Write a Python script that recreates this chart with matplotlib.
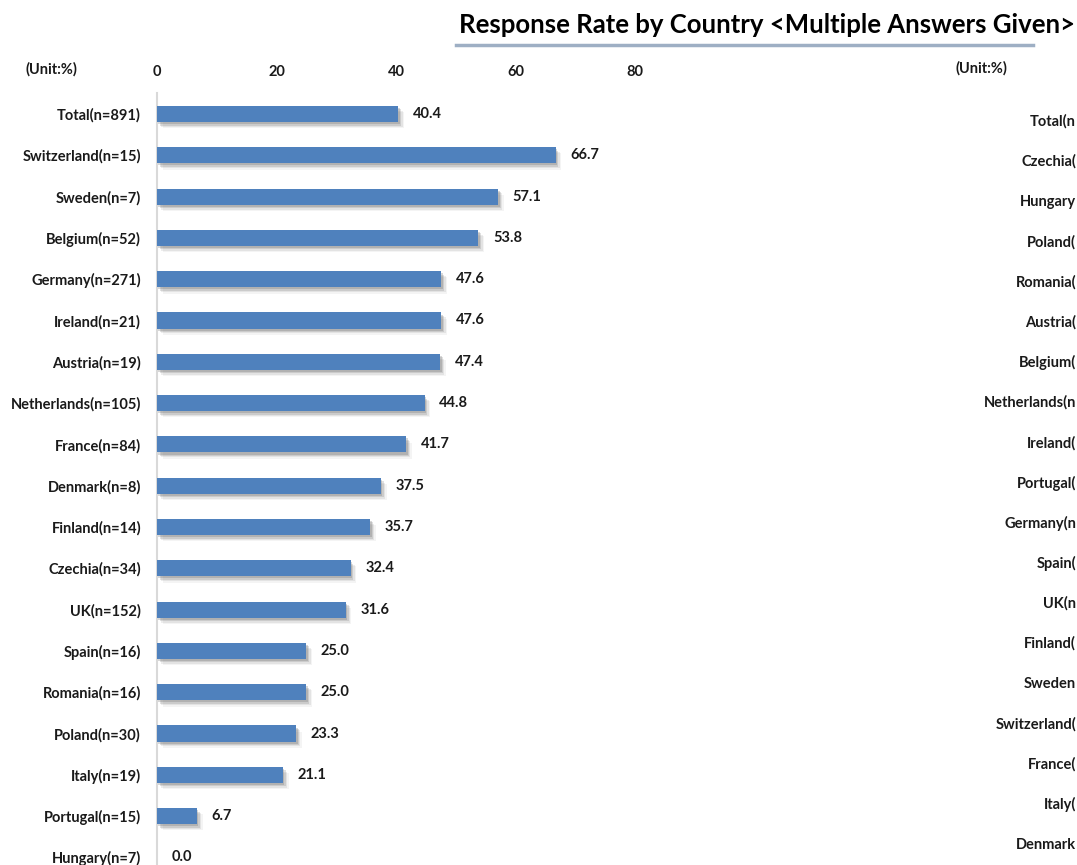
import numpy as np
import matplotlib.pyplot as plt
import matplotlib.patheffects as pe

# left chart (sorted by rate)
countries = ['Total', 'Switzerland', 'Sweden', 'Belgium', 'Germany', 'Ireland', 'Austria',
             'Netherlands', 'France', 'Denmark', 'Finland', 'Czechia', 'UK', 'Spain',
             'Romania', 'Poland', 'Italy', 'Portugal', 'Hungary']
n_resp = [891, 15, 7, 52, 271, 21, 19, 105, 84, 8, 14, 34, 152, 16, 16, 30, 19, 15, 7]
rates = [40.4, 66.7, 57.1, 53.8, 47.6, 47.6, 47.4, 44.8, 41.7, 37.5, 35.7, 32.4, 31.6,
         25.0, 25.0, 23.3, 21.1, 6.7, 0.0]
xticks = [0, 20, 40, 60, 80]

# right chart: only the start of its labels shows, the rest is cropped off
labels_r = ['Total(n', 'Czechia(', 'Hungary', 'Poland(', 'Romania(', 'Austria(', 'Belgium(',
            'Netherlands(n', 'Ireland(', 'Portugal(', 'Germany(n', 'Spain(', 'UK(n',
            'Finland(', 'Sweden', 'Switzerland(', 'France(', 'Italy(', 'Denmark']

labels = ['%s(n=%d)' % (c, n) for c, n in zip(countries, n_resp)]

plt.rcParams['font.family'] = ['Lato', 'DejaVu Sans']
plt.rcParams['font.weight'] = 'bold'

W, H = 1077, 865
fig = plt.figure(figsize=(W / 100, H / 100), dpi=100)
fs = 10.5
tcol = '#1a1a1a'


def px_axes(x0, x1, y_top, y_bot):
    return fig.add_axes([x0 / W, 1 - y_bot / H, (x1 - x0) / W, (y_bot - y_top) / H])


# left axes: row 0 at y=114, step 41.3 px
step = 41.3
top, bot = 93, 865
ax = px_axes(157, 635, top, bot)
ax.set_xlim(0, 80)
ax.set_ylim((bot - 114) / step, (top - 114) / step)

y = np.arange(len(countries))
bars = ax.barh(y, rates, height=0.39, color='#4f81bd', zorder=3)
# soft drop shadow like the office chart
for b in bars:
    b.set_path_effects([
        pe.SimplePatchShadow(offset=(4, -4.5), shadow_rgbFace='#999999', alpha=0.1),
        pe.SimplePatchShadow(offset=(3, -3.5), shadow_rgbFace='#888888', alpha=0.15),
        pe.SimplePatchShadow(offset=(2, -2.5), shadow_rgbFace='#777777', alpha=0.22),
        pe.SimplePatchShadow(offset=(1, -1.5), shadow_rgbFace='#666666', alpha=0.25),
        pe.Normal()])
for yi, v in zip(y, rates):
    ax.annotate('%.1f' % v, (v, yi), xytext=(10.5, 0), textcoords='offset points',
                ha='left', va='center', fontsize=fs, color=tcol)

ax.xaxis.tick_top()
ax.set_xticks(xticks)
ax.set_yticks(y)
ax.set_yticklabels(labels)
ax.tick_params(axis='x', length=0, pad=10, labelsize=fs, labelcolor=tcol)
ax.tick_params(axis='y', length=0, pad=11.5, labelsize=fs, labelcolor=tcol)
for s in ['top', 'right', 'bottom']:
    ax.spines[s].set_visible(False)
ax.spines['left'].set_color('#d9d9d9')
ax.spines['left'].set_linewidth(1.5)
ax.patch.set_alpha(0)

# right axes: row 0 at y=120, step 40.17 px; labels end at the figure's edge
step_r = 40.17
top_r = 100
ax2 = px_axes(1092, 1600, top_r, bot)
ax2.set_ylim((bot - 120) / step_r, (top_r - 120) / step_r)
ax2.set_yticks(np.arange(len(labels_r)))
ax2.set_yticklabels(labels_r)
ax2.set_xticks([])
ax2.tick_params(axis='y', length=0, pad=11.5, labelsize=fs, labelcolor=tcol)
for s in ax2.spines.values():
    s.set_visible(False)
ax2.patch.set_alpha(0)

fig.text(25 / W, 1 - 69 / H, '(Unit:%)', fontsize=fs, va='center', ha='left', color=tcol)
fig.text(956 / W, 1 - 68 / H, '(Unit:%)', fontsize=fs, va='center', ha='left', color=tcol)

fig.text(459 / W, 1 - 25 / H, 'Response Rate by Country <Multiple Answers Given>',
         fontsize=18.5, va='center', ha='left', color='black')
fig.add_artist(plt.Line2D([456 / W, 1033 / W], [1 - 45 / H, 1 - 45 / H],
                          color='#9eafc4', linewidth=2.5))

fig.savefig('out.png', dpi=100)
